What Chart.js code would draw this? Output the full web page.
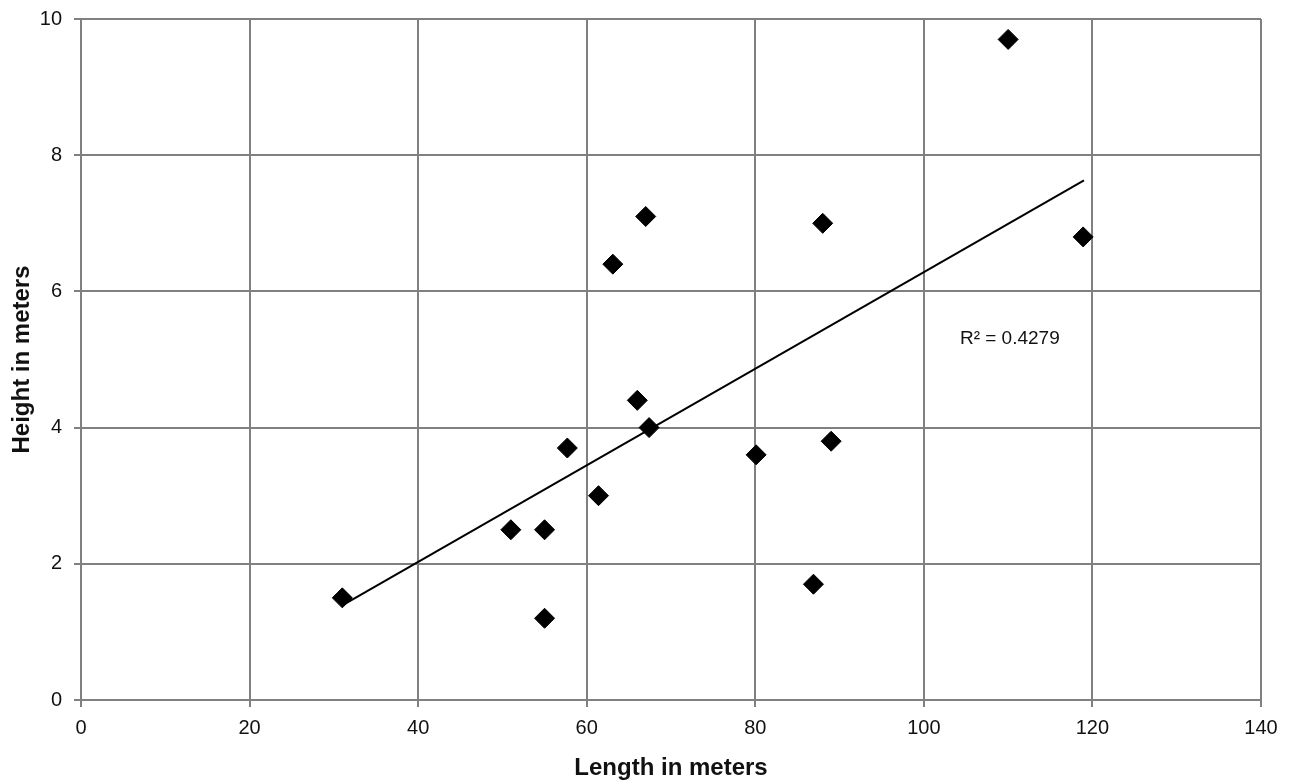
<!DOCTYPE html>
<html>
<head>
<meta charset="utf-8">
<script src="https://cdn.jsdelivr.net/npm/chart.js@4/dist/chart.umd.min.js"></script>
<style>
  html, body { margin: 0; padding: 0; background: #fff; }
  #wrap { width: 1294px; height: 784px; }
</style>
</head>
<body>
<div id="wrap"><canvas id="chart" width="1294" height="784"></canvas></div>
<script>
// Values
const lengths = [31, 51, 55, 55, 57.7, 61.4, 63.1, 66, 67, 67.4, 80.1, 86.9, 88, 89, 110, 118.9];
const heights = [1.5, 2.5, 2.5, 1.2, 3.7, 3.0, 6.4, 4.4, 7.1, 4.0, 3.6, 1.7, 7.0, 3.8, 9.7, 6.8];

// Linear trendline end points, as drawn in the reference
const trendX = [31, 119];
const trendY = [1.39, 7.63];
const rSquaredText = "R\u00b2 = 0.4279";
const rSquaredAt = [110.2, 5.31];

const GRID = "#808080";
const FONT = "'Liberation Sans', Arial, sans-serif";

const points = lengths.map((x, i) => ({ x, y: heights[i] }));
const trend = trendX.map((x, i) => ({ x, y: trendY[i] }));

// Draws the R² note in data coordinates
const rLabel = {
  id: "rLabel",
  afterDatasetsDraw(chart){
    const { ctx, scales } = chart;
    ctx.save();
    ctx.font = "19px " + FONT;
    ctx.fillStyle = "#111";
    ctx.textAlign = "center";
    ctx.textBaseline = "middle";
    ctx.fillText(rSquaredText, scales.x.getPixelForValue(rSquaredAt[0]), scales.y.getPixelForValue(rSquaredAt[1]));
    ctx.restore();
  }
};

new Chart(document.getElementById("chart").getContext("2d"), {
  type: "scatter",
  data: {
    datasets: [
      {
        label: "Height",
        data: points,
        pointStyle: "rectRot",
        pointRadius: 10,
        pointBackgroundColor: "#000",
        pointBorderColor: "#000",
        pointBorderWidth: 1,
        order: 1
      },
      {
        label: "Trend",
        type: "line",
        data: trend,
        borderColor: "#000",
        borderWidth: 2,
        pointRadius: 0,
        fill: false,
        order: 2
      }
    ]
  },
  options: {
    responsive: false,
    animation: false,
    layout: { padding: { top: 19, right: 33, left: 0, bottom: 0 } },
    plugins: {
      legend: { display: false },
      tooltip: { enabled: false }
    },
    scales: {
      x: {
        type: "linear",
        min: 0, max: 140,
        ticks: { stepSize: 20, color: "#111", padding: 9, font: { family: FONT, size: 20 } },
        grid: { color: GRID, lineWidth: 2, tickLength: 7 },
        border: { color: GRID, width: 2 },
        title: {
          display: true, text: "Length in meters", color: "#111",
          font: { family: FONT, size: 24, weight: "bold" },
          padding: { top: 0, bottom: 1 }
        },
        afterFit(scale){ scale.height = 84; scale.paddingLeft = 0; scale.paddingRight = 0; }
      },
      y: {
        type: "linear",
        min: 0, max: 10,
        ticks: { stepSize: 2, color: "#111", padding: 12, font: { family: FONT, size: 20 } },
        grid: { color: GRID, lineWidth: 2, tickLength: 7 },
        border: { color: GRID, width: 2 },
        title: {
          display: true, text: "Height in meters", color: "#111",
          font: { family: FONT, size: 24, weight: "bold" },
          padding: { top: 8, bottom: 0 }
        },
        afterFit(scale){ scale.width = 81; scale.paddingTop = 0; scale.paddingBottom = 0; }
      }
    }
  },
  plugins: [rLabel]
});
</script>
</body>
</html>
